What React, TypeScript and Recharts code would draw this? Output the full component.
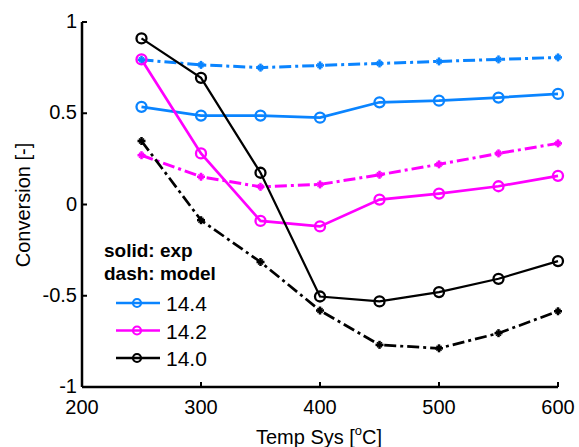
import React from "react";
import { LineChart, Line, XAxis, YAxis } from "recharts";

const temps = [250, 300, 350, 400, 450, 500, 550, 600];
const exp144 = [0.535, 0.487, 0.487, 0.476, 0.56, 0.569, 0.586, 0.606];
const model144 = [0.793, 0.765, 0.75, 0.762, 0.773, 0.784, 0.795, 0.806];
const exp142 = [0.795, 0.28, -0.09, -0.12, 0.027, 0.06, 0.1, 0.157];
const model142 = [0.27, 0.152, 0.097, 0.11, 0.163, 0.22, 0.28, 0.335];
const exp140 = [0.91, 0.694, 0.174, -0.504, -0.531, -0.48, -0.407, -0.31];
const model140 = [0.348, -0.086, -0.315, -0.581, -0.769, -0.788, -0.705, -0.585];

const xTicks = [200, 300, 400, 500, 600];
const yTicks = [-1, -0.5, 0, 0.5, 1];
const yTickLabels = ["-1", "-0.5", "0", "0.5", "1"];

const legendTitles = ["solid: exp", "dash: model"];
const legendNames = ["14.4", "14.2", "14.0"];
const BLUE = "#0a84ff";
const MAGENTA = "#ff00ff";
const BLACK = "#000000";
const colors = [BLUE, MAGENTA, BLACK];

const data = temps.map((t, i) => ({
  t,
  e144: exp144[i],
  m144: model144[i],
  e142: exp142[i],
  m142: model142[i],
  e140: exp140[i],
  m140: model140[i],
}));

const FONT = "'Liberation Sans', Arial, sans-serif";

const circleDot = (color: string) => (props: any) => {
  const { cx, cy, index } = props;
  if (cx == null || cy == null) return <g key={index} />;
  return <circle key={index} cx={cx} cy={cy} r={5} fill="none" stroke={color} strokeWidth={2.3} />;
};

const plusDot = (color: string) => (props: any) => {
  const { cx, cy, index } = props;
  if (cx == null || cy == null) return <g key={index} />;
  return (
    <g key={index} stroke={color} strokeWidth={2.5}>
      <line x1={cx - 4} y1={cy} x2={cx + 4} y2={cy} />
      <line x1={cx} y1={cy - 4} x2={cx} y2={cy + 4} />
      <line x1={cx - 2.5} y1={cy - 2.5} x2={cx + 2.5} y2={cy + 2.5} strokeWidth={1.5} />
      <line x1={cx - 2.5} y1={cy + 2.5} x2={cx + 2.5} y2={cy - 2.5} strokeWidth={1.5} />
    </g>
  );
};

const XTick = (props: any) => {
  const { x, y, payload } = props;
  return (
    <g>
      <line x1={x} y1={y} x2={x} y2={y - 5} stroke="#000" strokeWidth={2} />
      <text x={x} y={y + 27} textAnchor="middle" fontSize={20} fontFamily={FONT} fill="#000">
        {payload.value}
      </text>
    </g>
  );
};

const YTick = (props: any) => {
  const { x, y, payload } = props;
  const idx = yTicks.indexOf(payload.value);
  return (
    <g>
      <line x1={x} y1={y} x2={x + 5} y2={y} stroke="#000" strokeWidth={2} />
      <text x={x - 5} y={y + 6} textAnchor="end" fontSize={20} fontFamily={FONT} fill="#000">
        {idx >= 0 ? yTickLabels[idx] : payload.value}
      </text>
    </g>
  );
};

export default function App() {
  const lx = 104;
  const ly = 243;
  return (
    <div style={{ position: "absolute", left: 0, top: 0, width: 579, height: 447, background: "#fff" }}>
      <LineChart width={579} height={447} data={data} margin={{ top: 22, right: 21, bottom: 30, left: 0 }}>
        <XAxis
          dataKey="t"
          type="number"
          domain={[200, 600]}
          ticks={xTicks}
          height={30}
          tickSize={0}
          tickMargin={0}
          tickLine={false}
          axisLine={{ stroke: "#000", strokeWidth: 2.5 }}
          tick={<XTick />}
          interval={0}
        />
        <YAxis
          type="number"
          domain={[-1, 1]}
          ticks={yTicks}
          width={82}
          tickSize={0}
          tickMargin={0}
          tickLine={false}
          axisLine={{ stroke: "#000", strokeWidth: 2.5 }}
          tick={<YTick />}
          interval={0}
        />
        <Line dataKey="m144" stroke={BLUE} strokeWidth={3} strokeDasharray="12 4 3 4" dot={plusDot(BLUE)} isAnimationActive={false} />
        <Line dataKey="e144" stroke={BLUE} strokeWidth={2.7} dot={circleDot(BLUE)} isAnimationActive={false} />
        <Line dataKey="m142" stroke={MAGENTA} strokeWidth={3} strokeDasharray="12 4 3 4" dot={plusDot(MAGENTA)} isAnimationActive={false} />
        <Line dataKey="e142" stroke={MAGENTA} strokeWidth={2.7} dot={circleDot(MAGENTA)} isAnimationActive={false} />
        <Line dataKey="m140" stroke={BLACK} strokeWidth={2.7} strokeDasharray="12 4 3 4" dot={plusDot(BLACK)} isAnimationActive={false} />
        <Line dataKey="e140" stroke={BLACK} strokeWidth={2.2} dot={circleDot(BLACK)} isAnimationActive={false} />
        <g>
          {legendTitles.map((t, i) => (
            <text key={t} x={lx} y={ly + 14 + i * 23} fontSize={19} fontWeight="bold" fontFamily={FONT} fill="#000">
              {t}
            </text>
          ))}
          {legendNames.map((n, i) => {
            const yy = ly + 60 + i * 27.5;
            return (
              <g key={n}>
                <line x1={lx + 12} y1={yy} x2={lx + 56} y2={yy} stroke={colors[i]} strokeWidth={2.7} />
                <circle cx={lx + 33} cy={yy} r={4} fill="none" stroke={colors[i]} strokeWidth={2.2} />
                <text x={lx + 62} y={yy + 8} fontSize={21} fontFamily={FONT} fill="#000">
                  {n}
                </text>
              </g>
            );
          })}
        </g>
        <text x={319} y={444} textAnchor="middle" fontSize={20} fontFamily={FONT} fill="#000">
          Temp Sys [<tspan fontSize={13} dy={-9}>o</tspan>
          <tspan dy={9}>C]</tspan>
        </text>
        <text
          x={0}
          y={0}
          transform="translate(30,205) rotate(-90)"
          textAnchor="middle"
          fontSize={20}
          fontFamily={FONT}
          fill="#000"
        >
          Conversion [-]
        </text>
      </LineChart>
    </div>
  );
}
